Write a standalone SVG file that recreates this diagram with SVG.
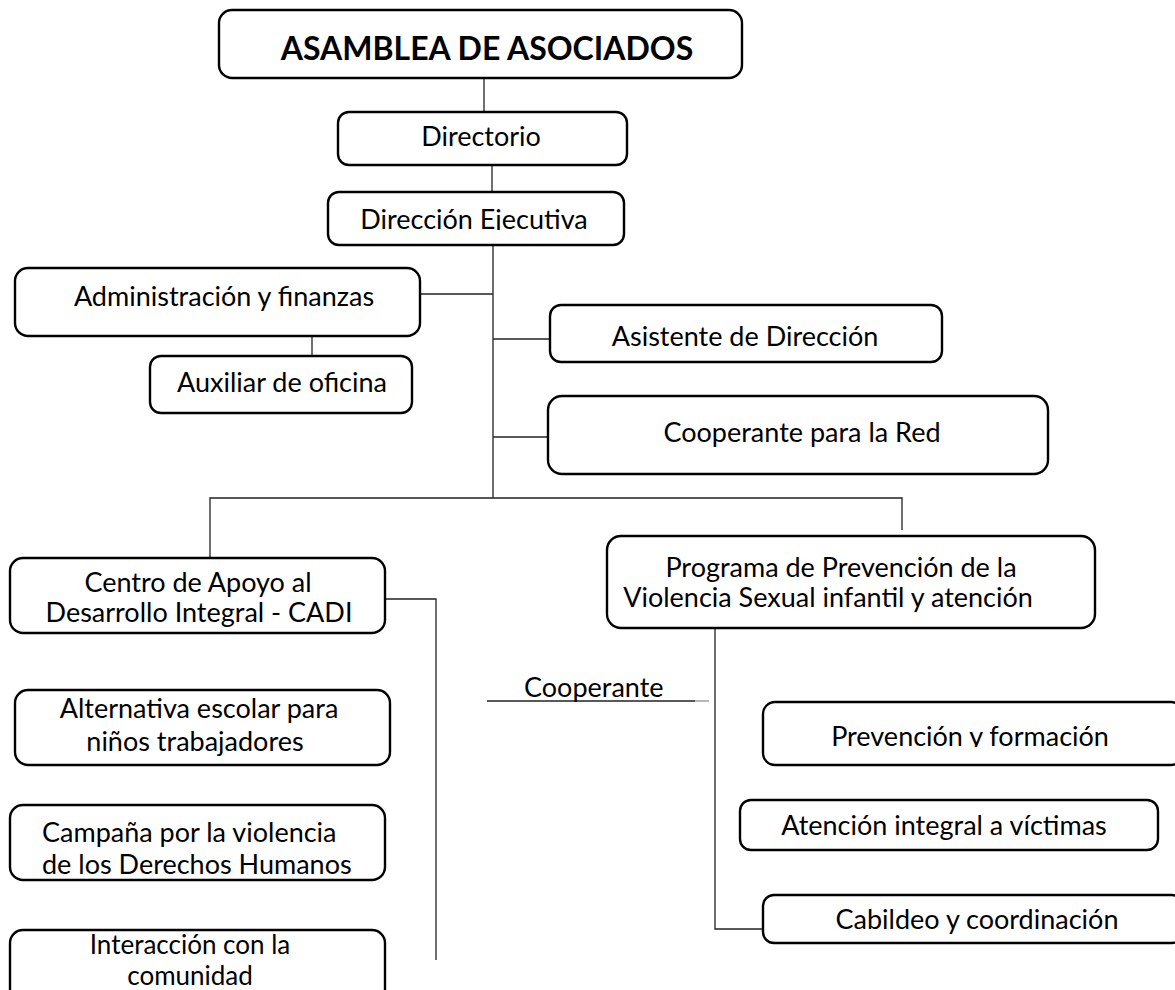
<svg xmlns="http://www.w3.org/2000/svg" width="1175" height="990" viewBox="0 0 1175 990">
<style>
.box{fill:#fff;stroke:#000;stroke-width:2.4}
.t{font-family:Lato,"Open Sans","Liberation Sans",sans-serif;font-size:27px;fill:#000;text-anchor:middle}
.tb{font-family:Lato,"Open Sans","Liberation Sans",sans-serif;font-size:32px;font-weight:bold;fill:#000;text-anchor:middle}
.c{fill:none;stroke:#222;stroke-width:1.3}
</style>
<defs>
<clipPath id="clipDir"><rect x="328" y="192" width="296" height="38"/></clipPath>
<clipPath id="clipAux"><rect x="150" y="355" width="262" height="38.5"/></clipPath>
<clipPath id="clipPrev"><rect x="763" y="702" width="412" height="45"/></clipPath>
</defs>
<rect width="1175" height="990" fill="#fff"/>
<g id="connectors">
<line class="c" x1="484" y1="78" x2="484" y2="112"/>
<line class="c" x1="492" y1="165" x2="492" y2="192"/>
<line class="c" x1="493" y1="245" x2="493" y2="498"/>
<line class="c" x1="420" y1="294" x2="493" y2="294"/>
<line class="c" x1="312" y1="327" x2="312" y2="356"/>
<line class="c" x1="493" y1="339" x2="550" y2="339"/>
<line class="c" x1="493" y1="437" x2="548" y2="437"/>
<polyline class="c" points="210,558 210,498 902,498 902,530"/>
<polyline class="c" points="385,599 436,599 436,960"/>
<polyline class="c" points="715,628 715,929 763,929"/>
<line class="c" x1="487" y1="701" x2="695" y2="701" stroke-width="1.6"/>
<line x1="695" y1="701" x2="709" y2="701" stroke="#888" stroke-width="1.2"/>
</g>
<g id="asamblea">
<rect class="box" x="219" y="10" width="523" height="68" rx="13"/>
<text class="tb" x="487" y="60">ASAMBLEA DE ASOCIADOS</text>
</g>
<g id="directorio">
<rect class="box" x="338" y="112" width="289" height="53" rx="11"/>
<text class="t" x="481" y="146">Directorio</text>
</g>
<g id="direccion">
<rect class="box" x="328" y="192" width="296" height="53" rx="11"/>
<text class="t" x="474" y="229" clip-path="url(#clipDir)">Dirección Ejecutiva</text>
</g>
<g id="administracion">
<rect class="box" x="15" y="268" width="405" height="68" rx="13"/>
<text class="t" x="224" y="306">Administración y finanzas</text>
</g>
<g id="auxiliar">
<rect class="box" x="150" y="356" width="262" height="57" rx="11"/>
<text class="t" x="282" y="392" clip-path="url(#clipAux)">Auxiliar de oficina</text>
</g>
<g id="asistente">
<rect class="box" x="550" y="305" width="392" height="57" rx="11"/>
<text class="t" x="745" y="346">Asistente de Dirección</text>
</g>
<g id="cooperante-red">
<rect class="box" x="548" y="396" width="500" height="78" rx="14"/>
<text class="t" x="802" y="442">Cooperante para la Red</text>
</g>
<g id="cadi">
<rect class="box" x="10" y="558" width="375" height="75" rx="13"/>
<text class="t" x="198" y="592">Centro de Apoyo al</text>
<text class="t" x="199" y="622">Desarrollo Integral - CADI</text>
</g>
<g id="programa">
<rect class="box" x="607" y="536" width="488" height="92" rx="14"/>
<text class="t" x="841" y="577">Programa de Prevención de la</text>
<text class="t" x="828" y="607">Violencia Sexual infantil y atención</text>
</g>
<g id="cooperante">
<text class="t" x="524" y="697" style="text-anchor:start">Cooperante</text>
</g>
<g id="alternativa">
<rect class="box" x="15" y="690" width="375" height="75" rx="13"/>
<text class="t" x="199" y="718">Alternativa escolar para</text>
<text class="t" x="195" y="751">niños trabajadores</text>
</g>
<g id="prevencion">
<rect class="box" x="763" y="702" width="420" height="63" rx="12"/>
<text class="t" x="970" y="746" clip-path="url(#clipPrev)">Prevención y formación</text>
</g>
<g id="campana">
<rect class="box" x="10" y="805" width="375" height="75" rx="13"/>
<text class="t" x="42" y="842" style="text-anchor:start">Campaña por la violencia</text>
<text class="t" x="42" y="874" style="text-anchor:start">de los Derechos Humanos</text>
</g>
<g id="atencion">
<rect class="box" x="740" y="800" width="418" height="50" rx="11"/>
<text class="t" x="944" y="835">Atención integral a víctimas</text>
</g>
<g id="interaccion">
<rect class="box" x="10" y="930" width="375" height="75" rx="13"/>
<text class="t" x="190" y="954" style="font-size:26px">Interacción con la</text>
<text class="t" x="190" y="985" style="font-size:26px">comunidad</text>
</g>
<g id="cabildeo">
<rect class="box" x="763" y="895" width="420" height="48" rx="11"/>
<text class="t" x="977" y="929">Cabildeo y coordinación</text>
</g>
</svg>
